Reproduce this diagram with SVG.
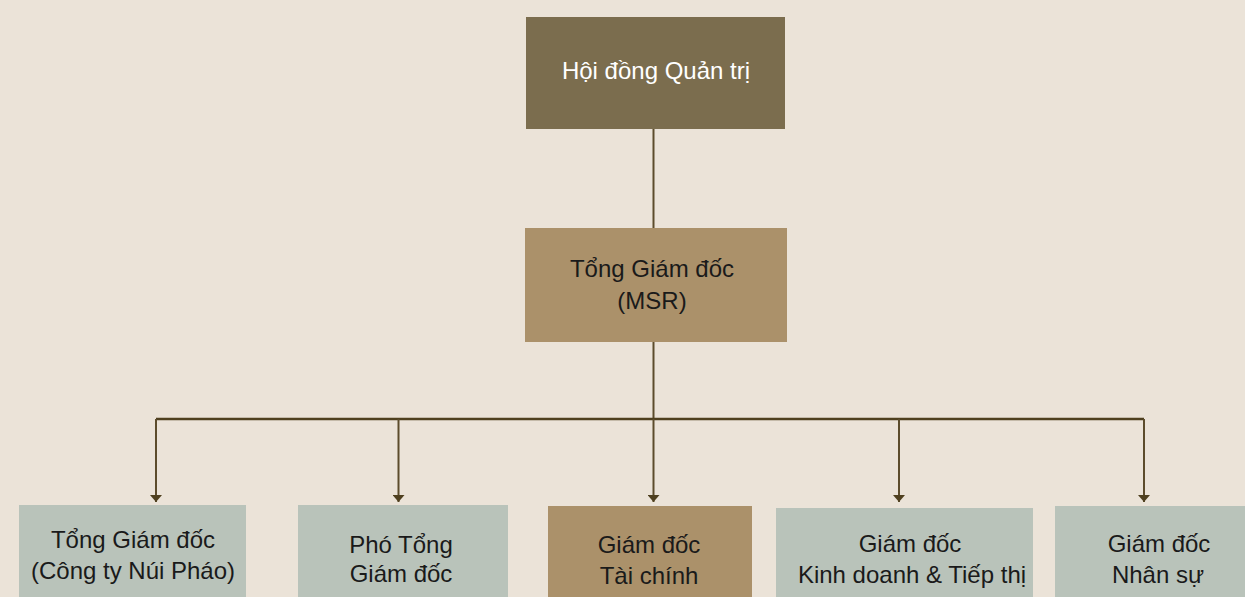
<svg xmlns="http://www.w3.org/2000/svg" width="1245" height="597" viewBox="0 0 1245 597">
<style>
.t{font-family:"Liberation Sans",Arial,sans-serif;font-size:24px;text-anchor:middle;fill:#1a1a1a}
.w{fill:#ffffff}
.c{stroke:#5c4c2c;stroke-width:2;fill:none}
.g{fill:#b9c3ba}
.b{fill:#ab916a}
</style>
<defs>
<marker id="ah" viewBox="0 0 7 12" refX="7" refY="6" markerWidth="7" markerHeight="12" markerUnits="userSpaceOnUse" orient="auto">
<path d="M0,0 L7,6 L0,12 Z" fill="#4f401f"/>
</marker>
</defs>
<rect x="0" y="0" width="1245" height="597" fill="#ebe3d8"/>
<g id="connectors">
<line class="c" x1="653.5" y1="129" x2="653.5" y2="228"/>
<line class="c" x1="653.5" y1="342" x2="653.5" y2="419"/>
<line class="c" x1="156" y1="419" x2="1144" y2="419" style="stroke:#4f401f;stroke-width:2.5"/>
<line class="c" x1="156" y1="419" x2="156" y2="502" marker-end="url(#ah)"/>
<line class="c" x1="398.5" y1="419" x2="398.5" y2="502" marker-end="url(#ah)"/>
<line class="c" x1="653.5" y1="419" x2="653.5" y2="502" marker-end="url(#ah)"/>
<line class="c" x1="899" y1="419" x2="899" y2="502" marker-end="url(#ah)"/>
<line class="c" x1="1144" y1="419" x2="1144" y2="502" marker-end="url(#ah)"/>
</g>
<g id="hdqt">
<rect x="526" y="17" width="259" height="112" fill="#7b6d4e"/>
<text class="t w" x="656" y="79">Hội đồng Quản trị</text>
</g>
<g id="tgd">
<rect x="525" y="228" width="262" height="114" class="b"/>
<text class="t" x="652" y="277">Tổng Giám đốc</text>
<text class="t" x="652" y="309">(MSR)</text>
</g>
<g id="tgd-nuiphao">
<rect x="19" y="505" width="227" height="92" class="g"/>
<text class="t" x="133" y="548">Tổng Giám đốc</text>
<text class="t" x="133" y="579">(Công ty Núi Pháo)</text>
</g>
<g id="pho-tgd">
<rect x="298" y="505" width="210" height="92" class="g"/>
<text class="t" x="401" y="553">Phó Tổng</text>
<text class="t" x="401" y="582">Giám đốc</text>
</g>
<g id="gd-taichinh">
<rect x="548" y="506" width="204" height="91" class="b"/>
<text class="t" x="649" y="553">Giám đốc</text>
<text class="t" x="649" y="584">Tài chính</text>
</g>
<g id="gd-kinhdoanh">
<rect x="776" y="508" width="257" height="89" class="g"/>
<text class="t" x="910" y="552">Giám đốc</text>
<text class="t" x="912" y="583">Kinh doanh &amp; Tiếp thị</text>
</g>
<g id="gd-nhansu">
<rect x="1055" y="506" width="190" height="91" class="g"/>
<text class="t" x="1159" y="552">Giám đốc</text>
<text class="t" x="1158" y="583">Nhân sự</text>
</g>
</svg>
